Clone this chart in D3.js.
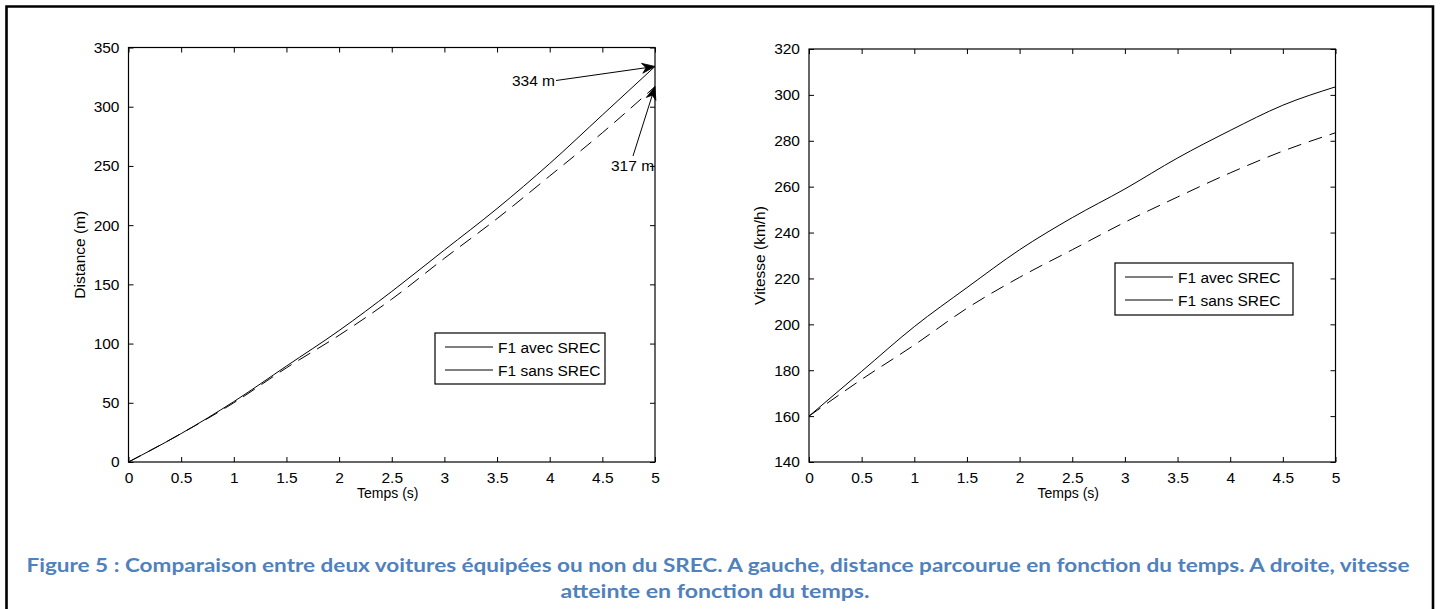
<!DOCTYPE html>
<html><head><meta charset="utf-8">
<script src="https://cdn.jsdelivr.net/npm/d3@7/dist/d3.min.js"></script>
<style>
html,body{margin:0;padding:0;background:#fff;}
svg{display:block;}
</style></head>
<body>
<svg id="chart" width="1442" height="609"></svg>
<script>
// ---- data ----
const timeS = [0, 0.5, 1, 1.5, 2, 2.5, 3, 3.5, 4, 4.5, 5];
const distAvec = [0, 24, 51, 81, 111, 144, 179, 214, 252, 293, 334];
const distSans = [0, 24, 50, 79.5, 107, 137.5, 172, 205.5, 241.5, 278, 317];
const speedAvec = [160, 179.5, 199, 216, 232.5, 246.5, 259, 272.5, 284.5, 295.5, 303.5];
const speedSans = [160, 176, 191, 207, 220.5, 232.5, 244.5, 255.5, 266, 275.5, 283.5];
const xTicks = [0, 0.5, 1, 1.5, 2, 2.5, 3, 3.5, 4, 4.5, 5];
const distTicks = [0, 50, 100, 150, 200, 250, 300, 350];
const speedTicks = [140, 160, 180, 200, 220, 240, 260, 280, 300, 320];
const seriesNames = ["F1 avec SREC", "F1 sans SREC"];
const annotLabels = ["334 m", "317 m"];
const annotValues = [334, 317];
const xLabel = "Temps (s)";
const yLabelLeft = "Distance (m)";
const yLabelRight = "Vitesse (km/h)";
const captionLine1 = "Figure 5 : Comparaison entre deux voitures équipées ou non du SREC. A gauche, distance parcourue en fonction du temps. A droite, vitesse";
const captionLine2 = "atteinte en fonction du temps.";

const svg = d3.select("#chart");
const FONT = "'Liberation Sans', Arial, sans-serif";
const FS = 15.5;

// outer frame
svg.append("path")
  .attr("d", "M6.5,620 L6.5,6.5 L1433,6.5 L1433,620")
  .attr("fill", "none").attr("stroke", "#000").attr("stroke-width", 2.6);

function panel(opts) {
  const {x0, x1, y0, y1, yDomain, yTicks, ys, yLabel, yLabelX, legend} = opts;
  const g = svg.append("g");
  const x = d3.scaleLinear().domain([0, 5]).range([x0, x1]);
  const y = d3.scaleLinear().domain(yDomain).range([y1, y0]);
  const tl = 5;
  g.append("rect").attr("x", x0).attr("y", y0).attr("width", x1 - x0).attr("height", y1 - y0)
    .attr("fill", "#fff").attr("stroke", "#000").attr("stroke-width", 1.2);
  const fmt = d3.format("~g");
  const ax = (axis, tr) => {
    const a = g.append("g").attr("transform", tr).call(axis);
    a.select(".domain").remove();
    a.selectAll(".tick line").attr("stroke", "#000").attr("stroke-width", 1);
    a.selectAll("text").attr("font-family", FONT).attr("font-size", FS).attr("fill", "#000");
    return a;
  };
  ax(d3.axisBottom(x).tickValues(xTicks).tickFormat(fmt).tickSizeInner(-tl).tickPadding(tl + 5), `translate(0,${y1})`);
  ax(d3.axisTop(x).tickValues(xTicks).tickFormat("").tickSizeInner(-tl), `translate(0,${y0})`);
  ax(d3.axisLeft(y).tickValues(yTicks).tickFormat(fmt).tickSizeInner(-tl).tickPadding(tl + 4), `translate(${x0},0)`);
  ax(d3.axisRight(y).tickValues(yTicks).tickFormat("").tickSizeInner(-tl), `translate(${x1},0)`);
  const line = d3.line().x((d, i) => x(timeS[i])).y(d => y(d)).curve(d3.curveMonotoneX);
  g.append("path").attr("d", line(ys[0])).attr("fill", "none").attr("stroke", "#000").attr("stroke-width", 1);
  g.append("path").attr("d", line(ys[1])).attr("fill", "none").attr("stroke", "#000").attr("stroke-width", 1)
    .attr("stroke-dasharray", "14,8");
  g.append("text").attr("x", (x0 + x1) / 2 - 4).attr("y", y1 + 36).attr("text-anchor", "middle")
    .attr("font-family", FONT).attr("font-size", 14).text(xLabel);
  g.append("text").attr("transform", `translate(${yLabelX},${(y0 + y1) / 2}) rotate(-90)`)
    .attr("text-anchor", "middle").attr("font-family", FONT).attr("font-size", FS).text(yLabel);
  const lg = g.append("g");
  lg.append("rect").attr("x", legend.x).attr("y", legend.y).attr("width", legend.w).attr("height", legend.h)
    .attr("fill", "#fff").attr("stroke", "#000").attr("stroke-width", 1.2);
  seriesNames.forEach((n, i) => {
    const yy = legend.y + 14 + i * 23;
    lg.append("line").attr("x1", legend.x + 10).attr("x2", legend.x + 58).attr("y1", yy).attr("y2", yy)
      .attr("stroke", "#000").attr("stroke-width", 1);
    lg.append("text").attr("x", legend.x + 63).attr("y", yy + 5.5).attr("font-family", FONT)
      .attr("font-size", FS).text(n);
  });
  return {x, y, g};
}

const left = panel({x0: 128.5, x1: 655, y0: 47.5, y1: 462, yDomain: [0, 350], yTicks: distTicks,
  ys: [distAvec, distSans], yLabel: yLabelLeft, yLabelX: 85,
  legend: {x: 435, y: 333, w: 170, h: 51}});
const right = panel({x0: 809, x1: 1335.5, y0: 49, y1: 462, yDomain: [140, 320], yTicks: speedTicks,
  ys: [speedAvec, speedSans], yLabel: yLabelRight, yLabelX: 765,
  legend: {x: 1115, y: 263, w: 178, h: 52}});

function arrow(g, xs, ys, xe, ye) {
  const ang = Math.atan2(ye - ys, xe - xs);
  const L = 13, W = 5, N = 9;
  const c = Math.cos(ang), s = Math.sin(ang);
  const bx = xe - L * c, by = ye - L * s;
  const nx = xe - N * c, ny = ye - N * s;
  g.append("line").attr("x1", xs).attr("y1", ys).attr("x2", nx).attr("y2", ny)
    .attr("stroke", "#000").attr("stroke-width", 1);
  g.append("path").attr("d",
    `M${xe},${ye} L${bx - W * s},${by + W * c} L${nx},${ny} L${bx + W * s},${by - W * c} Z`)
    .attr("fill", "#000").attr("stroke", "#000").attr("stroke-width", 0.8);
}
const ax0 = left.x(5);
arrow(left.g, 556, 80.5, ax0, left.y(annotValues[0]));
left.g.append("text").attr("x", 555).attr("y", 86).attr("text-anchor", "end")
  .attr("font-family", FONT).attr("font-size", FS).text(annotLabels[0]);
arrow(left.g, 633, 156, ax0, left.y(annotValues[1]));
left.g.append("text").attr("x", 611).attr("y", 171)
  .attr("font-family", FONT).attr("font-size", FS).text(annotLabels[1]);

// caption
const CFONT = "Lato, 'Open Sans', sans-serif";
const CFS = 19;
svg.append("text").attr("x", 718).attr("y", 572).attr("text-anchor", "middle")
  .attr("font-family", CFONT).attr("font-weight", "bold").attr("fill", "#4F81BD").attr("font-size", CFS)
  .attr("textLength", 1383).attr("lengthAdjust", "spacingAndGlyphs").text(captionLine1);
svg.append("text").attr("x", 715).attr("y", 598).attr("text-anchor", "middle")
  .attr("font-family", CFONT).attr("font-weight", "bold").attr("fill", "#4F81BD").attr("font-size", CFS)
  .attr("textLength", 309).attr("lengthAdjust", "spacingAndGlyphs").text(captionLine2);
</script>
</body></html>
